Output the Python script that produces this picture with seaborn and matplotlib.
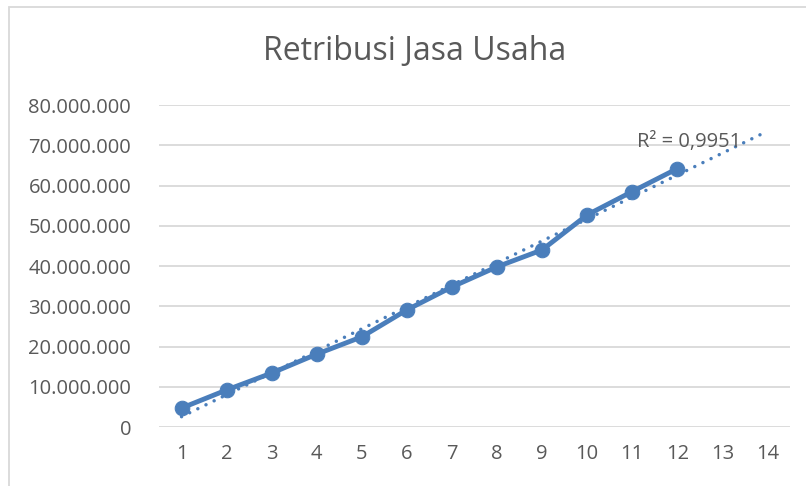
import numpy as np
import matplotlib
matplotlib.use("Agg")
import matplotlib.pyplot as plt
import seaborn as sns
from matplotlib.ticker import FuncFormatter, MultipleLocator
from matplotlib.patches import Rectangle

# ---- data ----
periods = [1, 2, 3, 4, 5, 6, 7, 8, 9, 10, 11, 12]
values = [4700000, 9200000, 13400000, 18100000, 22400000, 29100000,
          34800000, 39800000, 44000000, 52700000, 58500000, 64200000]
trend_end = 14
title = "Retribusi Jasa Usaha"
r2_label = "R² = 0,9951"

sns.set_theme(style="white")
plt.rcParams['font.family'] = ['Open Sans', 'DejaVu Sans']

W, H = 806, 486
fig = plt.figure(figsize=(W / 100, H / 100), dpi=100)
L, R, T, B = 159, 790, 105, 427
ax = fig.add_axes([L / W, 1 - B / H, (R - L) / W, (B - T) / H])

blue = '#4a7ebb'
gray_txt = '#595959'
grid = '#d9d9d9'

# chart border
fig.patches.append(Rectangle((9 / W, -0.1), 1.2, 1 - 7 / H + 0.1, transform=fig.transFigure,
                             fill=False, edgecolor=grid, linewidth=1.3, zorder=0))

# trendline (linear least squares)
coef = np.polyfit(periods, values, 1)
tx = np.array([periods[0], trend_end])
ax.plot(tx, np.polyval(coef, tx), color=blue, linewidth=2.5,
        linestyle=(0, (0.01, 2.6)), dash_capstyle='round', zorder=3)

sns.lineplot(x=periods, y=values, ax=ax, color=blue, linewidth=3.5,
             marker='o', markersize=10.5, markeredgecolor=blue, zorder=4)

ax.set_xlim(0.5, 14.5)
ax.set_ylim(0, 80000000)
ax.yaxis.set_major_locator(MultipleLocator(10000000))
ax.xaxis.set_major_locator(MultipleLocator(1))
ax.yaxis.set_major_formatter(FuncFormatter(lambda v, p: f"{int(round(v)):,}".replace(',', '.')))
ax.grid(axis='y', color=grid, linewidth=1.3)
ax.grid(axis='x', visible=False)
for s in ax.spines.values():
    s.set_visible(False)
ax.tick_params(axis='both', length=0, labelsize=14.5, labelcolor=gray_txt)
ax.tick_params(axis='y', pad=20)
ax.tick_params(axis='x', pad=12)
ax.set_xlabel('')
ax.set_ylabel('')

fig.text(415 / W, 1 - 52 / H, title, ha='center', va='center', fontsize=23,
         color=gray_txt)
fig.text(689 / W, 1 - 142 / H, r2_label, fontsize=14.5, color=gray_txt,
         ha='center', va='center', zorder=5)

fig.savefig('out.png', dpi=100)
